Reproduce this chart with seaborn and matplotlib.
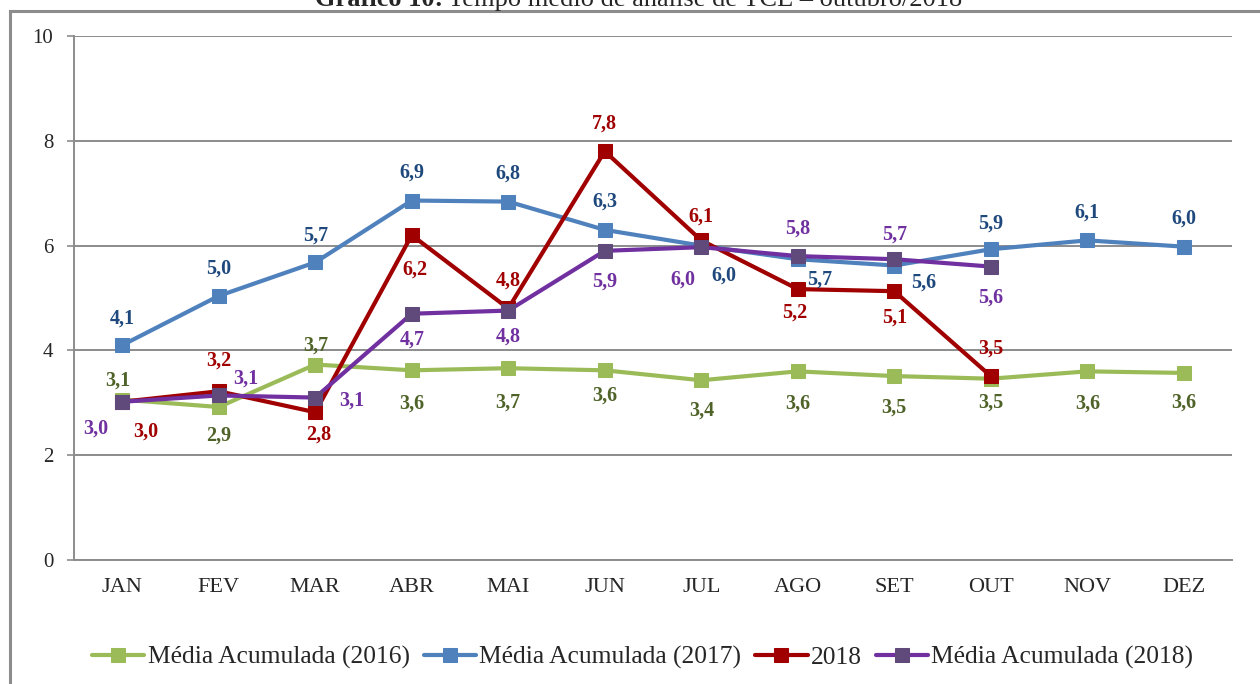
import matplotlib
matplotlib.use("Agg")
import matplotlib.pyplot as plt
from matplotlib.patches import Rectangle
import seaborn as sns
import pandas as pd

meses = ["JAN", "FEV", "MAR", "ABR", "MAI", "JUN", "JUL", "AGO", "SET", "OUT", "NOV", "DEZ"]
media_2016 = [3.06, 2.92, 3.73, 3.62, 3.66, 3.62, 3.43, 3.60, 3.51, 3.46, 3.60, 3.57]
media_2017 = [4.10, 5.04, 5.68, 6.86, 6.84, 6.30, 6.00, 5.74, 5.62, 5.93, 6.10, 5.98]
valores_2018 = [3.02, 3.22, 2.82, 6.20, 4.80, 7.80, 6.10, 5.17, 5.13, 3.51]
media_2018 = [3.02, 3.14, 3.10, 4.70, 4.76, 5.90, 5.97, 5.80, 5.74, 5.60]

nomes = ["Média Acumulada (2016)", "Média Acumulada (2017)", "2018", "Média Acumulada (2018)"]

# estilo de cada serie: cor da linha, cor do marcador, cor do rotulo
estilos = [
    ("#9BBB59", "#9BBB59", "#4F6228"),
    ("#4F81BD", "#4F81BD", "#1F497D"),
    ("#A00000", "#A00000", "#A00000"),
    ("#7030A0", "#604A7B", "#7030A0"),
]

# deslocamento dos rotulos em pixels (dx, dy para baixo)
offs = [
    [(-5, -19), (0, 29), (0, -19), (0, 33), (0, 34), (0, 25), (0, 30), (0, 32), (0, 32), (0, 24), (0, 32), (0, 30)],
    [(0, -27), (0, -27), (0, -27), (0, -28), (0, -28), (0, -28), (23, 30), (22, 20), (29, 17), (0, -26), (0, -28), (0, -28)],
    [(23, 30), (0, -31), (3, 22), (3, 34), (0, -28), (0, -28), (0, -24), (-3, 24), (0, 26), (0, -27)],
    [(-27, 27), (27, -17), (37, 3), (0, 26), (0, 26), (0, 31), (-18, 32), (0, -27), (0, -25), (0, 31)],
]

series = [media_2016, media_2017, valores_2018, media_2018]
linhas = []
for nome, vals in zip(nomes, series):
    for i, v in enumerate(vals):
        linhas.append({"serie": nome, "x": i, "valor": v})
df = pd.DataFrame(linhas)

sns.set_style("white")
plt.rcParams["font.family"] = ["Liberation Serif", "DejaVu Serif"]

fig = plt.figure(figsize=(12.6, 6.84), dpi=100)
ax = fig.add_axes([74 / 1260, 1 - 560 / 684, (1232 - 74) / 1260, (560 - 36) / 684])

for k, nome in enumerate(nomes):
    cor, cor_mk, cor_txt = estilos[k]
    sub = df[df["serie"] == nome]
    sns.lineplot(data=sub, x="x", y="valor", ax=ax, color=cor, lw=3, marker="s",
                 markersize=10, markerfacecolor=cor_mk, markeredgecolor=cor_mk,
                 label=nome, zorder=3 + k)
    for i, v in enumerate(series[k]):
        dx, dy = offs[k][i]
        ax.annotate(f"{v:.1f}".replace(".", ","), (i, v), xytext=(dx * 0.72, -dy * 0.72),
                    textcoords="offset points", ha="center", va="center",
                    fontsize=14.5, fontweight="bold", color=cor_txt, zorder=10)

ax.set_xlim(-0.5, 11.5)
ax.set_ylim(0, 10)
ax.set_yticks(range(0, 11, 2))
ax.set_xticks([i - 0.5 for i in range(13)])
ax.set_xticklabels([])
ax.set_xticks(range(12), minor=True)
ax.set_xticklabels(meses, minor=True)
ax.tick_params(axis="x", which="major", length=4, width=1.2, color="#8C8C8C", direction="out")
ax.tick_params(axis="x", which="minor", length=0, pad=13, labelsize=16)
ax.tick_params(axis="y", length=5, width=1.2, color="#8C8C8C", pad=10, labelsize=15, left=True)
ax.set_xlabel("")
ax.set_ylabel("")
ax.grid(axis="y", color="#8C8C8C", lw=1.4)
ax.set_axisbelow(True)
for s in ["top", "right"]:
    ax.spines[s].set_visible(False)
for s in ["left", "bottom"]:
    ax.spines[s].set_color("#8C8C8C")
    ax.spines[s].set_linewidth(1.4)

ax.legend(loc="center", bbox_to_anchor=(0.51, 0.039), bbox_transform=fig.transFigure,
          ncol=4, frameon=False, fontsize=18.4, handlelength=2.05, handletextpad=0.12,
          columnspacing=0.55)

# moldura do grafico
fig.patches.append(Rectangle((10 / 1260, -0.2), 1.2, 1.2 + (684 - 11) / 684 - 1,
                             transform=fig.transFigure, fill=False, ec="#8C8C8C", lw=2.2))

# titulo cortado no topo
fig.text(443 / 1260, 1 - 6 / 684, "Gráfico 10:", ha="right", va="baseline",
         fontsize=19, fontweight="bold")
fig.text(448 / 1260, 1 - 6 / 684, "Tempo médio de análise de TCE – outubro/2018",
         ha="left", va="baseline", fontsize=19)

fig.savefig("out.png", dpi=100)
